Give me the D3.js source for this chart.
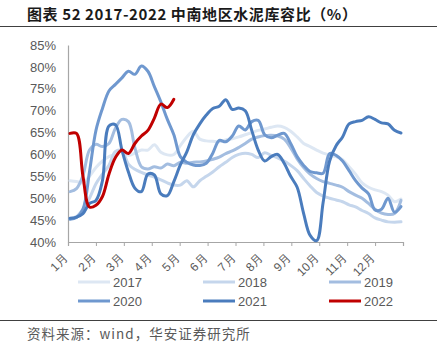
<!DOCTYPE html>
<html><head><meta charset="utf-8">
<script src="https://cdn.jsdelivr.net/npm/d3@7"></script>
<style>
html,body{margin:0;padding:0;background:#fff;}
svg{display:block;}
</style></head>
<body>
<svg id="c" width="437" height="351"></svg>
<script>
const title = "图表 52 2017-2022 中南地区水泥库容比（%）";
const source = "资料来源：wind，华安证券研究所";
const months = ["1月","2月","3月","4月","5月","6月","7月","8月","9月","10月","11月","12月"];
const yTicks = [40,45,50,55,60,65,70,75,80,85];
const seriesNames = ["2017","2018","2019","2020","2021","2022"];
const seriesColors = ["#dde7f3","#c5d6ec","#a3bde0","#6f98cf","#4a7cbd","#c00000"];

// weekly values (%)
const v2017 = [54,53.8,53.5,55,57,58.5,59.5,60,61,59.8,60.3,61,61,62.2,60.5,59.9,60,62,64,65.3,63.5,63.1,63,62.9,63.3,63.6,64,64.5,65,65.5,65.8,66.2,66.5,66.2,65.3,64,62.5,61.8,61,60.3,59.9,59.5,58.8,57.2,55.5,53.5,52.5,51.9,51.5,50.7,49.2,49.8];
const v2018 = [45.3,45.8,47.5,50,53.3,55.5,57.5,60.7,60.8,57.8,56.6,55.9,55.3,54.8,54.2,53.5,53,53,54,52.6,54,55,56,57.2,58.2,59.3,60,60.3,60,59.3,60.4,59.8,59.2,58.5,57.5,56.3,54.5,52.8,51.3,50.5,50,49.6,49.2,48.5,48,47.2,46.5,45.5,45,44.6,44.5,44.6];
const v2019 = [51.5,52.2,55.2,61,62.3,61.8,62.5,66,68,67.5,61.5,57.2,56.7,57.2,56.9,57.8,57.4,58.2,58,58.2,58.3,58.5,58.9,59.4,60.2,60.8,61.6,62.5,63.5,64,64.3,64.4,64.2,63.5,61.5,59,57,55.5,54.5,53.8,53.4,53,52.5,51.5,50.7,50,48.8,47.5,46.6,46.3,46.5,49.5];
const v2020 = [45.2,45.6,47.5,56,65.5,70.5,74.5,76,77.5,79,78.3,80.2,79,75.5,72,68,64.5,59.5,58.2,57.6,57.5,58,60.3,63.2,62.9,64.2,66.5,65.6,67.5,67.8,64.5,63.8,64.4,64.8,62.5,59.5,57.5,56.1,55.8,55.7,60.2,59.8,58.5,56.3,54,52.3,51,47.3,47.5,50,46.8,48.1];
const v2021 = [45.4,45.7,46.5,48.8,49.5,54,66.5,66.8,61,56,52.3,51.5,55.5,55.3,51,50.6,53.8,57.6,60.6,64.5,67,69,70.5,71,72.5,70.3,70.6,70,65.5,61,58.5,59.5,60,58,55,52.5,46.5,41.5,40.3,49,58.5,62,64,67,67.5,67.8,68.6,68,67.2,67,65.5,64.9];
const v2022 = [64.8,64.8,55,48,48.4,50.4,55.5,59.3,61,60.2,62.5,64.2,65.5,68.3,71.5,70.7,72.6];
const allSeries = [v2017,v2018,v2019,v2020,v2021,v2022];

const svg = d3.select("#c");
const pLeft = 68, pRight = 403, pTop = 45, pBottom = 242;

const x = d3.scaleLinear().domain([0,12]).range([pLeft,pRight]);
const xw = d3.scaleLinear().domain([0,51]).range([70,401]);
const y = d3.scaleLinear().domain([40,85]).range([pBottom,pTop]);

// title
svg.append("text").attr("x",27).attr("y",20)
  .attr("font-family","'Noto Sans CJK SC', sans-serif").attr("font-weight","bold")
  .attr("font-size",15).attr("letter-spacing",0.6).attr("fill","#1a1a1a").text(title);
svg.append("line").attr("x1",0).attr("x2",437).attr("y1",26.5).attr("y2",26.5)
  .attr("stroke","#404040").attr("stroke-width",1);

// y axis
const ya = svg.append("g").attr("transform",`translate(${pLeft},0)`)
  .call(d3.axisLeft(y).tickValues(yTicks).tickSize(0).tickPadding(12).tickFormat(d=>d+"%"));
ya.select(".domain").attr("stroke","#a6a6a6").attr("stroke-width",1.2);
ya.selectAll("text").attr("font-family","'Liberation Sans', Arial, sans-serif")
  .attr("font-size",13).attr("fill","#595959");

// x axis
const xa = svg.append("g").attr("transform",`translate(0,${pBottom})`)
  .call(d3.axisBottom(x).tickValues(d3.range(0,13)).tickSize(4).tickFormat(""));
xa.select(".domain").attr("stroke","#a6a6a6").attr("stroke-width",1.2);
xa.selectAll(".tick line").attr("stroke","#a6a6a6");

svg.append("g").selectAll("text").data(months).join("text")
  .attr("transform",(d,i)=>`translate(${x(i)+0.5},${pBottom+17}) rotate(-45)`)
  .attr("text-anchor","end")
  .attr("font-family","'Liberation Sans', Arial, sans-serif")
  .attr("font-size",12).attr("fill","#595959").text(d=>d);

// lines
const line = d3.line().x((d,i)=>xw(i)).y(d=>y(d)).curve(d3.curveCatmullRom.alpha(0.5));
svg.append("g").selectAll("path").data(allSeries).join("path")
  .attr("d",d=>line(d)).attr("fill","none")
  .attr("stroke",(d,i)=>seriesColors[i]).attr("stroke-width",3)
  .attr("stroke-linejoin","round").attr("stroke-linecap","round");

// legend
const legX = [78,203,329], legY = [282,301];
const lg = svg.append("g").selectAll("g").data(seriesNames).join("g")
  .attr("transform",(d,i)=>`translate(${legX[i%3]},${legY[Math.floor(i/3)]})`);
lg.append("line").attr("x1",0).attr("x2",32).attr("y1",0).attr("y2",0)
  .attr("stroke",(d,i)=>seriesColors[i]).attr("stroke-width",3);
lg.append("text").attr("x",35).attr("y",5)
  .attr("font-family","'Liberation Sans', Arial, sans-serif")
  .attr("font-size",13).attr("fill","#595959").text(d=>d);

// bottom
svg.append("line").attr("x1",0).attr("x2",437).attr("y1",320.5).attr("y2",320.5)
  .attr("stroke","#404040").attr("stroke-width",1);
svg.append("text").attr("x",27).attr("y",339)
  .attr("font-family","'Noto Sans CJK SC', sans-serif")
  .attr("font-size",13.5).attr("letter-spacing",1).attr("fill","#595959").text(source);
</script>
</body></html>
